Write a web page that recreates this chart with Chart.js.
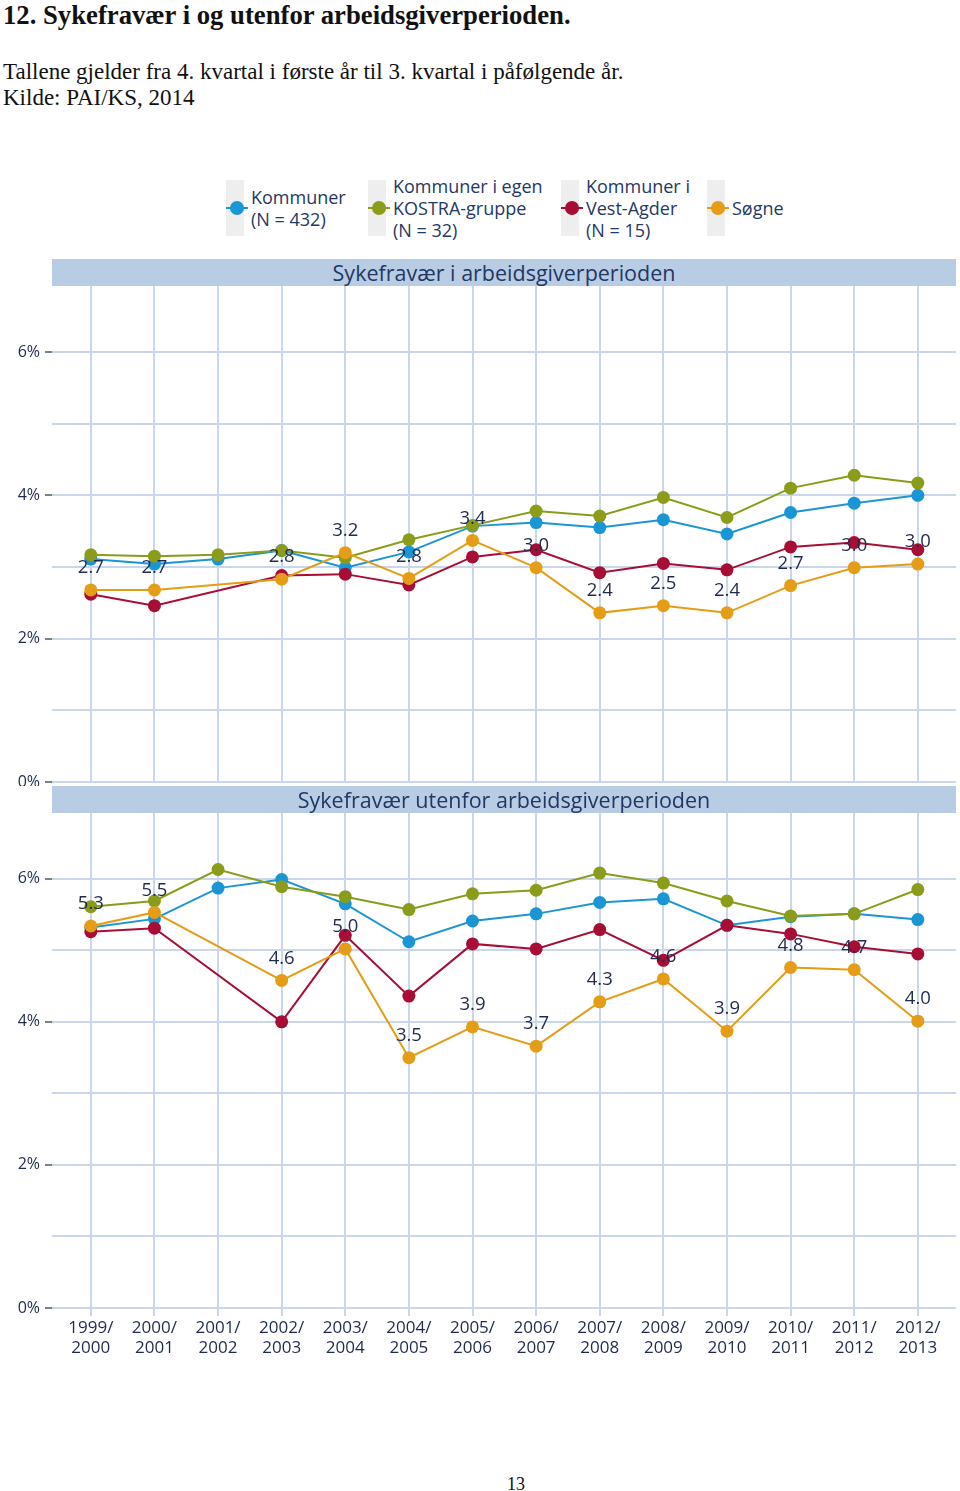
<!DOCTYPE html>
<html lang="no">
<head>
<meta charset="utf-8">
<title>Sykefravær i og utenfor arbeidsgiverperioden</title>
<script src="https://cdn.jsdelivr.net/npm/chart.js@4.4.1/dist/chart.umd.min.js"></script>
<style>
  body { margin: 0; width: 960px; height: 1491px; position: relative; background: #fff; overflow: hidden; }
  .serif { position: absolute; left: 3px; margin: 0; white-space: nowrap; font-family: 'Liberation Serif', 'Times New Roman', serif; color: #111; line-height: 1; }
  .title { top: 2px; font-size: 26.7px; font-weight: bold; }
  .sub1 { top: 60px; font-size: 23px; }
  .sub2 { top: 86px; font-size: 23px; }
  .page { position: absolute; top: 1474px; left: 0; width: 1032px; text-align: center; font-family: 'Liberation Serif', serif; font-size: 18px; color: #111; }
  .legend-item { position: absolute; font-family: 'Open Sans', sans-serif; font-size: 18px; line-height: 22px; color: #1f3864; }
  .legend-box { position: absolute; top: 180px; width: 18px; height: 56px; background: #eeeeee; }
  .legend-mark { position: absolute; width: 14px; height: 14px; border-radius: 50%; top: 201px; }
  .legend-line { position: absolute; width: 22px; height: 2px; top: 207px; }
  .band { position: absolute; left: 52px; width: 904px; height: 27px; background: #b8cce4; color: #1f3864; font-family: 'Open Sans', sans-serif; font-size: 21.5px; line-height: 27px; text-align: center; }
  canvas { position: absolute; left: 0; }
</style>
</head>
<body>
<p class="serif title">12. Sykefravær i og utenfor arbeidsgiverperioden.</p>
<p class="serif sub1">Tallene gjelder fra 4. kvartal i første år til 3. kvartal i påfølgende år.</p>
<p class="serif sub2">Kilde: PAI/KS, 2014</p>

<div id="legend"></div>

<div class="band" style="top:259px">Sykefravær i arbeidsgiverperioden</div>
<canvas id="chart-top" width="960" height="500" style="top:286px"></canvas>
<div class="band" style="top:786px">Sykefravær utenfor arbeidsgiverperioden</div>
<canvas id="chart-bottom" width="960" height="556" style="top:813px"></canvas>

<div class="page">13</div>

<script>
// ── data ──
const periods = ['1999/2000', '2000/2001', '2001/2002', '2002/2003', '2003/2004', '2004/2005', '2005/2006',
    '2006/2007', '2007/2008', '2008/2009', '2009/2010', '2010/2011', '2011/2012', '2012/2013'];
const yTicks = [0, 2, 4, 6];

// Sykefravær i arbeidsgiverperioden (%)
const kommunerI = [3.11, 3.04, 3.11, 3.23, 2.99, 3.21, 3.57, 3.62, 3.55, 3.66, 3.46, 3.76, 3.89, 4.00];
const kostraI = [3.17, 3.15, 3.17, 3.23, 3.13, 3.38, 3.58, 3.78, 3.71, 3.97, 3.69, 4.10, 4.28, 4.17];
const vestAgderI = [2.62, 2.46, null, 2.88, 2.90, 2.75, 3.14, 3.24, 2.92, 3.05, 2.96, 3.28, 3.34, 3.24];
const sogneI = [2.68, 2.68, null, 2.83, 3.20, 2.84, 3.37, 2.99, 2.36, 2.46, 2.36, 2.74, 2.99, 3.04];

// Sykefravær utenfor arbeidsgiverperioden (%)
const kommunerU = [5.32, 5.44, 5.87, 5.99, 5.65, 5.12, 5.41, 5.51, 5.67, 5.72, 5.35, 5.47, 5.51, 5.43];
const kostraU = [5.61, 5.69, 6.13, 5.89, 5.75, 5.57, 5.79, 5.84, 6.08, 5.94, 5.69, 5.48, 5.51, 5.85];
const vestAgderU = [5.26, 5.31, null, 4.00, 5.21, 4.36, 5.09, 5.02, 5.29, 4.86, 5.35, 5.23, 5.05, 4.95];
const sogneU = [5.34, 5.53, null, 4.58, 5.02, 3.50, 3.93, 3.66, 4.28, 4.60, 3.87, 4.76, 4.73, 4.01];

const SERIES = [
    { key: 'kommuner', label: ['Kommuner', '(N = 432)'], color: '#1a96d4', order: 4, legendX: 226 },
    { key: 'kostra', label: ['Kommuner i egen', 'KOSTRA-gruppe', '(N = 32)'], color: '#8a9c1a', order: 3, legendX: 368 },
    { key: 'vestAgder', label: ['Kommuner i', 'Vest-Agder', '(N = 15)'], color: '#a80d35', order: 2, legendX: 561 },
    { key: 'sogne', label: ['Søgne'], color: '#e59c16', order: 1, legendX: 707 },
];

const GRID = '#c9d7ea';
const TEXT = '#1f2b4d';

// ── legend (html) ──
function renderLegend() {
    const el = document.getElementById('legend');
    el.innerHTML = SERIES.map(s => {
        const x = s.legendX;
        const top = 208 - s.label.length * 11;
        return `
      <div class="legend-box" style="left:${x}px"></div>
      <div class="legend-line" style="left:${x}px;background:${s.color}"></div>
      <div class="legend-mark" style="left:${x + 4}px;background:${s.color}"></div>
      <div class="legend-item" style="left:${x + 25}px;top:${top}px">${s.label.join('<br>')}</div>`;
    }).join('');
}

// ── Søgne-verdier over punktene ──
const sogneLabels = {
    id: 'sogneLabels',
    afterDatasetsDraw(chart) {
        const idx = chart.data.datasets.findIndex(d => d.key === 'sogne');
        const meta = chart.getDatasetMeta(idx);
        const data = chart.data.datasets[idx].data;
        const ctx = chart.ctx;
        ctx.save();
        ctx.font = '18.5px "Open Sans"';
        ctx.fillStyle = TEXT;
        ctx.textAlign = 'center';
        ctx.textBaseline = 'middle';
        meta.data.forEach((pt, i) => {
            const v = data[i].y;
            if (v == null) return;
            ctx.fillText(v.toFixed(1), pt.x, pt.y - 22);
        });
        ctx.restore();
    }
};

// fjerner automatisk luft rundt akselabler så plottområdet blir der vi vil
function noPadding(scale) {
    scale.paddingTop = 0;
    scale.paddingBottom = 0;
    scale.paddingLeft = 0;
    scale.paddingRight = 0;
}

function buildChart(canvasId, values, showX) {
    const ctx = document.getElementById(canvasId).getContext('2d');
    return new Chart(ctx, {
        type: 'line',
        data: {
            datasets: SERIES.map(s => ({
                key: s.key,
                label: s.label.join(' '),
                data: values[s.key].map((v, i) => ({ x: i, y: v })),
                borderColor: s.color,
                backgroundColor: s.color,
                pointBackgroundColor: s.color,
                pointBorderWidth: 0,
                pointRadius: 6.5,
                borderWidth: 2,
                tension: 0,
                spanGaps: true,
                clip: false,
                order: s.order,
            })),
        },
        options: {
            responsive: false,
            animation: false,
            devicePixelRatio: 1,
            layout: { autoPadding: false, padding: { left: 0, right: 4, top: 0, bottom: showX ? 0 : 4 } },
            plugins: { legend: { display: false }, tooltip: { enabled: false } },
            scales: {
                x: {
                    type: 'linear',
                    min: -0.61,
                    max: 13.6,
                    border: { display: false },
                    afterBuildTicks: scale => {
                        scale.ticks = periods.map((p, i) => ({ value: i }));
                    },
                    afterFit: scale => {
                        scale.height = showX ? 61 : 0;
                        noPadding(scale);
                    },
                    grid: {
                        color: GRID,
                        lineWidth: 2,
                        drawTicks: showX,
                        tickLength: 8,
                        tickColor: GRID,
                    },
                    ticks: {
                        display: showX,
                        autoSkip: false,
                        maxRotation: 0,
                        padding: 2,
                        color: TEXT,
                        font: { family: 'Open Sans', size: 17, lineHeight: 1.2 },
                        callback: v => {
                            const [a, b] = periods[v].split('/');
                            return [a + '/', b];
                        },
                    },
                },
                y: {
                    min: 0,
                    max: 6.92,
                    border: { display: false },
                    afterBuildTicks: scale => {
                        scale.ticks = [0, 1, 2, 3, 4, 5, 6].map(v => ({ value: v }));
                    },
                    afterFit: scale => {
                        scale.width = 52;
                        noPadding(scale);
                    },
                    grid: {
                        color: GRID,
                        lineWidth: 2,
                        tickLength: 7,
                        tickColor: c => yTicks.includes(c.tick.value) ? '#808080' : 'transparent',
                    },
                    ticks: {
                        padding: 5,
                        color: TEXT,
                        font: { family: 'Open Sans', size: 16 },
                        callback: v => yTicks.includes(v) ? v + '%' : '',
                    },
                },
            },
        },
        plugins: [sogneLabels],
    });
}

renderLegend();
buildChart('chart-top', { kommuner: kommunerI, kostra: kostraI, vestAgder: vestAgderI, sogne: sogneI }, false);
buildChart('chart-bottom', { kommuner: kommunerU, kostra: kostraU, vestAgder: vestAgderU, sogne: sogneU }, true);
</script>
</body>
</html>
